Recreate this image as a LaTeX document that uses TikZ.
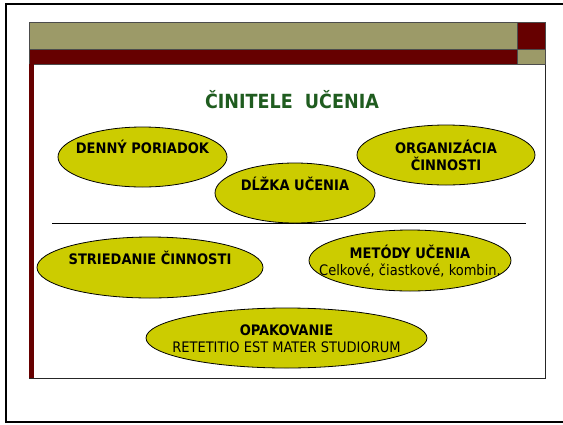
\documentclass[tikz,border=0pt]{standalone}
\usepackage{fontspec}
\setmainfont{DejaVu Sans Condensed}
\usetikzlibrary{shapes.geometric}
\definecolor{slideolive}{HTML}{9C9A68}
\definecolor{slidered}{HTML}{660000}
\definecolor{blobyellow}{HTML}{CCCC00}
\definecolor{titlegreen}{HTML}{1F5C1F}
\begin{document}
\begin{tikzpicture}[x=1pt, y=-1pt,
	blob/.style={ellipse, draw, fill=blobyellow, line width=0.8pt, inner sep=0},
	every node/.style={align=center, font=\fontsize{14.5}{17}\selectfont}]
	\useasboundingbox (0,0) rectangle (563,424);
	
	% frame and slide
	\draw[line width=2pt] (563,3.5) -- (6,3.5) -- (6,422) -- (563,422);
	\draw[line width=0.7pt, draw=black!85] (29,22) rectangle (545,378);
	\fill[slideolive] (29,22) rectangle (517,49);
	\fill[slidered] (517,22) rectangle (545,49);
	\fill[slidered] (29,49) rectangle (517,64);
	\fill[slideolive] (517,49) rectangle (545,64);
	\draw[line width=0.6pt, draw=black!70] (29,22) rectangle (545,64) (517,22) -- (517,64) (29,49) -- (545,49);
	\fill[slidered] (29,64) rectangle (34,378);
	
	\node (title) at (292,100) [font=\bfseries\fontsize{19.5}{21}\selectfont, text=titlegreen] {ČINITELE\ \ UČENIA};
	
	\draw[line width=0.7pt] (52,223) -- (526,223);
	
	\node (denny) at (142.5,157) [blob, minimum width=169, minimum height=60] {};
	\node (dlzka) at (295,193) [blob, minimum width=160, minimum height=60] {};
	\node (organ) at (446,155) [blob, minimum width=178, minimum height=60] {};
	\node (stried) at (150,267.5) [blob, minimum width=226, minimum height=61] {};
	\node (metody) at (410,260.5) [blob, minimum width=202, minimum height=61] {};
	\node (opak) at (286.5,338) [blob, minimum width=281, minimum height=60] {};
	
	\node (denny-t) at (142.5,147) {\bfseries DENNÝ PORIADOK};
	\node (dlzka-t) at (295,184) {\bfseries DĹŽKA UČENIA};
	\node (organ-t) at (446,155) {\bfseries ORGANIZÁCIA\\\bfseries ČINNOSTI};
	\node (stried-t) at (150,258) {\bfseries STRIEDANIE ČINNOSTI};
	\node (metody-t) at (410,261) {\bfseries METÓDY UČENIA\\Celkové, čiastkové, kombin.};
	\node (opak-t) at (286.5,338.5) {\bfseries OPAKOVANIE\\RETETITIO EST MATER STUDIORUM};
\end{tikzpicture}
\end{document}
